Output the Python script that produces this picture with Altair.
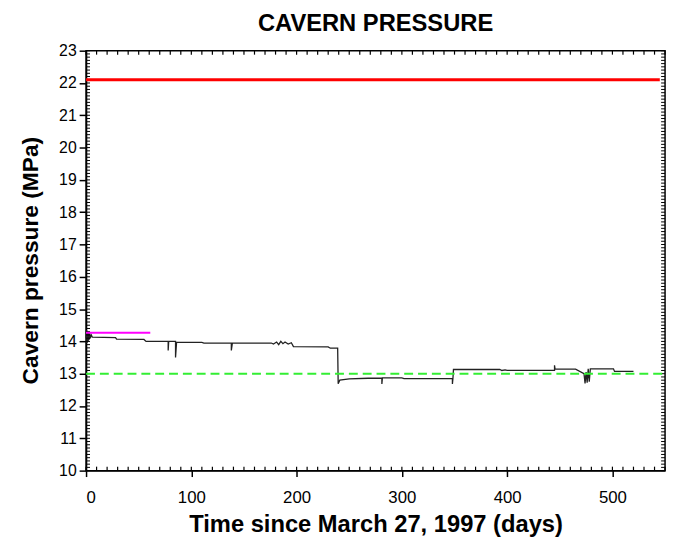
import altair as alt
import pandas as pd

# ---- data ----
days = [0, 0.5, 1, 1.5, 2, 2.5, 3, 3.5, 4, 5, 6,
        28, 29, 55, 57, 78, 78, 78.5, 85, 85, 86, 110, 112, 138, 138, 139,
        176, 178, 181, 183, 185, 187, 189, 192, 195, 197, 230, 232, 239, 239.5,
        241, 250, 268, 281, 281, 281.5, 300, 302, 348, 348, 348.5, 349,
        393, 395, 398, 400, 445, 445, 445.5, 465, 473, 474, 475, 476, 477,
        478, 479, 501, 502, 520]
pressure = [14.1, 14.35, 13.95, 14.3, 14.0, 14.3, 14.05, 14.25, 14.1, 14.2, 14.13,
            14.12, 14.07, 14.06, 14.0, 14.0, 13.72, 14.0, 14.0, 13.5, 13.98, 13.97, 13.95, 13.95, 13.72, 13.95,
            13.95, 13.92, 13.98, 13.9, 14.0, 13.93, 13.98, 13.92, 13.96, 13.84, 13.83, 13.79, 13.79, 12.69,
            12.8, 12.84, 12.86, 12.86, 12.68, 12.87, 12.87, 12.85, 12.85, 12.68, 12.85, 13.13,
            13.13, 13.1, 13.12, 13.1, 13.1, 13.26, 13.14, 13.14, 13.0, 12.7, 13.05, 12.72, 13.15,
            12.75, 13.15, 13.15, 13.07, 13.07]

red_level = 22.1
red_days = [0, 545]
green_level = 13.0
green_days = [0, 550]
magenta_level = 14.27
magenta_days = [0, 61]

x_major = [0, 100, 200, 300, 400, 500]
y_major = list(range(10, 24))
x_minor = list(range(0, 551, 10))
y_minor = [round(10 + i * 0.1, 1) for i in range(131)]

W, H = 586, 425
FONT = "Liberation Sans"

xs = alt.Scale(domain=[0, 550], nice=False, zero=False)
ys = alt.Scale(domain=[10, 23], nice=False, zero=False)

xaxis = alt.Axis(
    values=x_major, title="Time since March 27, 1997 (days)", grid=False,
    tickSize=6, labelPadding=13, labelFontSize=17, titleFontSize=24,
    titleFontWeight="bold", titleY=55, titleBaseline="middle")
yaxis = alt.Axis(
    values=y_major, title="Cavern pressure (MPa)", grid=False,
    tickSize=7, labelPadding=3, labelFontSize=16, titleFontSize=23,
    titleFontWeight="bold", titleAngle=270, titleX=-56, titleY=212,
    titleBaseline="middle", titleAlign="center")

main_df = pd.DataFrame({"day": days, "p": pressure})

line = alt.Chart(main_df).mark_line(color="#222222", strokeWidth=1.3).encode(
    x=alt.X("day:Q", scale=xs, axis=xaxis),
    y=alt.Y("p:Q", scale=ys, axis=yaxis),
    order="idx:Q",
).transform_window(idx="row_number()")

def hline(xvals, level, color, width, dash=None):
    df = pd.DataFrame({"day": xvals, "p": [level] * len(xvals)})
    kw = dict(color=color, strokeWidth=width)
    if dash:
        kw["strokeDash"] = dash
    return alt.Chart(df).mark_line(**kw).encode(
        x=alt.X("day:Q", scale=xs, axis=xaxis), y=alt.Y("p:Q", scale=ys, axis=yaxis))

red = hline(red_days, red_level, "#ff0000", 3)
green = hline(green_days, green_level, "#33ee33", 2, [9, 5])
magenta = hline(magenta_days, magenta_level, "#ff00ff", 2)

xm = pd.DataFrame({"day": x_minor})
ym = pd.DataFrame({"p": y_minor})
tick_bottom = alt.Chart(xm).mark_rule(color="black", strokeWidth=1.2).encode(
    x=alt.X("day:Q", scale=xs, axis=xaxis), y=alt.value(H), y2=alt.value(H - 4))
tick_top = alt.Chart(xm).mark_rule(color="black", strokeWidth=1.2).encode(
    x=alt.X("day:Q", scale=xs, axis=xaxis), y=alt.value(0), y2=alt.value(4))
tick_left = alt.Chart(ym).mark_rule(color="black", strokeWidth=1).encode(
    y=alt.Y("p:Q", scale=ys, axis=yaxis), x=alt.value(0), x2=alt.value(4))
tick_right = alt.Chart(ym).mark_rule(color="black", strokeWidth=1).encode(
    y=alt.Y("p:Q", scale=ys, axis=yaxis), x=alt.value(W), x2=alt.value(W - 4))

chart = alt.layer(
    line, tick_bottom, tick_top, tick_left, tick_right,
    red, green, magenta
).properties(
    width=W, height=H,
    background="white",
    title=alt.TitleParams("CAVERN PRESSURE", fontSize=24, fontWeight="bold",
                          font=FONT, anchor="middle", frame="group",
                          baseline="alphabetic", offset=0, dy=12, color="black"),
    autosize=alt.AutoSizeParams(type="none"),
    padding={"left": 79, "top": 40, "right": 5, "bottom": 66},
).configure_view(
    stroke="black", strokeWidth=1.5, fill="white"
).configure_axis(
    grid=False, domainColor="black", domainWidth=1.5, tickColor="black",
    tickWidth=1.5, labelColor="black", titleColor="black",
    labelFont=FONT, titleFont=FONT
)

chart.save("out.html", embed_options={"renderer": "svg", "actions": False})
